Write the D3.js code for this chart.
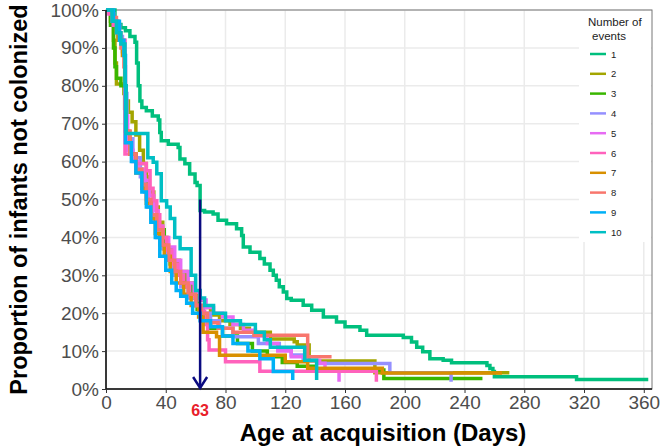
<!DOCTYPE html>
<html>
<head>
<meta charset="utf-8">
<script src="https://cdn.jsdelivr.net/npm/d3@7"></script>
<style>
  body { margin: 0; background: #fff; }
  svg { display: block; font-family: "Liberation Sans", Arial, sans-serif; }
</style>
</head>
<body>
<div id="chart"></div>
<script>
// survival steps per number of events: [day, % not colonized]
var ev1 = [[0,100],[6,96.2],[10,95.3],[13,94.5],[16,93],[19.4,91.5],[20.5,86],[21.6,80],[22.7,76],[24,74.3],[27,73.4],[31,72],[35,71],[36,67.7],[37,65.5],[41.7,64.6],[48.3,63.7],[49.5,60.7],[52.8,59.4],[56,56.7],[59.6,54.5],[61,53.7],[63,47.1],[66,46.7],[71.7,46.2],[75,44.5],[80.7,43.6],[87.4,42.3],[90.8,40.5],[91.9,37.5],[96.4,36.1],[103,34.4],[106,33],[109.8,31.3],[112,30],[114,28.7],[116,27],[118.7,25.6],[121,23.9],[124,23.4],[132,22.1],[137.7,20.8],[145.5,19],[154.3,17.7],[160,16.4],[170,15.5],[174.5,14.2],[199,13.6],[204.5,12.4],[208,11],[212,9.8],[216.8,8],[225.7,7.6],[231.3,6.9],[255,6.2],[257,5.4],[259,4.6],[260,3.2],[315,2.5],[363,2.5]];
var ev2 = [[0,100],[3,97],[5,92],[6,86],[7,80.5],[12,78],[13,76],[15,73],[17.5,70.5],[20,67],[22.5,63],[25,59.5],[27,56],[29,52],[32,48],[35,44],[38,40],[41,37],[45,34],[49,31],[54,28],[58,25.5],[62,23.5],[66,21.5],[70,19.5],[76,18],[83,17],[90,16],[96,15],[110,13.2],[126,12.5],[128,11.6],[136,7.4],[180,4.3],[270,4.3]];
var ev3 = [[0,100],[3,96],[5,90],[6,85],[7,82],[10,80],[12.5,74],[13.5,66],[16,62],[20,58],[24,55],[28,50],[31,46],[35,42],[39,37],[43,33],[47,30],[52,27],[57,24],[61,21],[65,18],[70,16],[78,14],[88,12],[98,10],[108,8.5],[118,7],[128,6],[140,5],[186,2.8],[252,2.8]];
var ev4 = [[0,100],[4,97],[8,93],[11,89],[12.8,78],[14,66],[18,61],[23,56],[26,52],[28,48],[31,44],[34,40],[37,37],[41,34],[45,30],[50,27],[55,24],[60,22],[65,20],[70,18],[76,16],[85,13.8],[102,12],[116,10.3],[124,9],[132,7.5],[142,6.7],[190,4.3],[231,1.9]];
var ev5 = [[0,100],[2,99],[5,96],[9,92],[12.5,88],[13,72],[14.5,63],[18,60],[22,58],[26,55],[29,51],[32,47],[35,43],[38,40],[42,37.5],[46,34],[50,31],[55,28],[59,25.5],[63,23.5],[67,21.5],[72,20],[78,19],[85,17],[92,15.5],[100,14],[108,12],[115,10],[124,8.5],[134,7.5],[143,6.8],[146.6,5],[156,1.9]];
var ev6 = [[0,100],[2,99],[5,96],[9,92],[12.7,62],[20,59.5],[27,57.6],[29.5,53],[31.5,49.7],[34,46],[36,42.7],[38,40],[40.6,36.6],[44,33],[48,30],[52,27],[56,24.5],[60,22],[64,20.5],[66,17],[68,13],[69,10.3],[80,7.2],[103,4.7],[181,1.9]];
var ev7 = [[0,100],[4,97],[8,92],[11,88],[12.5,80],[13.5,68],[16,62],[20,57],[24,53],[27,49],[30,45],[33,41],[36,38],[39,35],[43,31],[47,28],[52,25],[57,22],[62,19],[65,15],[74,13.8],[76,8.9],[120,7.2],[135,5.5],[185,4.2],[265,4.2]];
var ev8 = [[0,100],[4,98],[7,94],[10,90],[12,85],[13,68],[16,62],[20,58],[24,54],[27,50],[30,46],[34,42],[38,38],[42,34],[46,31],[50,28],[55,25],[60,22],[64,20],[68,17.5],[75,16],[85,15],[99,14.2],[135,8.5],[151,8.5]];
var ev9 = [[0,100],[5,97],[9,92],[12,88],[13,65],[17,60],[20,57],[24,52],[27,48],[30,44],[33,40],[36,35],[40,31.3],[44,28],[47,26],[50,24.5],[54,22.6],[58,20],[63,18],[70,16.4],[78,14],[85,12],[95,10],[103,8],[112,4.6],[125,2.4]];
var ev10 = [[0,100],[4,97],[7,94],[10,91],[12.7,80],[13.5,67.4],[28,61],[31.6,59.8],[34,56.8],[37,49.7],[40.6,48],[43,45],[46,40],[49.6,37],[57,30],[60,26],[63,24],[66,22],[72,20],[80,18],[90,17],[100,15],[106,13],[110,11],[133,7.6],[141,2.4]];

var groups = ["1", "2", "3", "4", "5", "6", "7", "8", "9", "10"];
var colors = ["#00BF7D", "#A3A500", "#39B600", "#9590FF", "#E76BF3", "#FF62BC", "#D89000", "#F8766D", "#00B0F6", "#00BFC4"];
var xTicks = [0, 40, 80, 120, 160, 200, 240, 280, 320, 360];
var yTicks = [0, 10, 20, 30, 40, 50, 60, 70, 80, 90, 100];
var medianDay = 63;

var allSeries = [ev1, ev2, ev3, ev4, ev5, ev6, ev7, ev8, ev9, ev10];

var svgWidth = 666, svgHeight = 447;
var margin = { top: 10, right: 14, bottom: 58, left: 106 };
var chartWidth = svgWidth - margin.left - margin.right;
var chartHeight = svgHeight - margin.top - margin.bottom;

var svg = d3.select("#chart").append("svg")
  .attr("width", svgWidth)
  .attr("height", svgHeight);

var chartGroup = svg.append("g")
  .attr("transform", `translate(${margin.left}, ${margin.top})`);

var xScale = d3.scaleLinear().domain([0, 365.5]).range([0, chartWidth]);
var yScale = d3.scaleLinear().domain([0, 100]).range([chartHeight, 0]);

// grid
chartGroup.append("g").selectAll("line")
  .data(xTicks).enter().append("line")
  .attr("x1", d => xScale(d)).attr("x2", d => xScale(d))
  .attr("y1", 0).attr("y2", chartHeight)
  .attr("stroke", "#ebebeb").attr("stroke-width", 1.5);
chartGroup.append("g").selectAll("line")
  .data(yTicks).enter().append("line")
  .attr("x1", 0).attr("x2", chartWidth)
  .attr("y1", d => yScale(d)).attr("y2", d => yScale(d))
  .attr("stroke", "#ebebeb").attr("stroke-width", 1.5);

// panel border
chartGroup.append("rect")
  .attr("width", chartWidth).attr("height", chartHeight)
  .attr("fill", "none").attr("stroke", "#777").attr("stroke-width", 1);

// curves
var line = d3.line()
  .x(d => xScale(d[0]))
  .y(d => yScale(d[1]))
  .curve(d3.curveStepAfter);

chartGroup.append("g").selectAll("path")
  .data(allSeries).enter().append("path")
  .attr("d", line)
  .attr("fill", "none")
  .attr("stroke", (d, i) => colors[i])
  .attr("stroke-width", 3.5)
  .attr("stroke-linejoin", "miter");

// axes
var xAxis = d3.axisBottom(xScale).tickValues(xTicks).tickSize(4).tickPadding(3);
var yAxis = d3.axisLeft(yScale).tickValues(yTicks).tickSize(4).tickPadding(3)
  .tickFormat(d => d + "%");

var gx = chartGroup.append("g")
  .attr("transform", `translate(0, ${chartHeight})`)
  .call(xAxis);
var gy = chartGroup.append("g").call(yAxis);

[gx, gy].forEach(function(g) {
  g.select(".domain").attr("stroke", "#111").attr("stroke-width", 1.5);
  g.selectAll(".tick line").attr("stroke", "#333");
  g.selectAll(".tick text")
    .attr("fill", "#4d4d4d")
    .style("font-size", "19px")
    .style("font-family", "'Liberation Sans', Arial, sans-serif");
});
gy.select(".domain").attr("d", `M0,${chartHeight}V0`);
gx.select(".domain").attr("d", `M0,0H${chartWidth}`);

// legend box
var legend = chartGroup.append("g")
  .attr("transform", `translate(${chartWidth - 74}, 0)`);
legend.append("rect")
  .attr("x", 1).attr("y", 1)
  .attr("width", 72).attr("height", 231)
  .attr("fill", "#fff");
legend.append("text")
  .attr("x", 10).attr("y", 16)
  .style("font-size", "11.5px").attr("fill", "#222")
  .text("Number of");
legend.append("text")
  .attr("x", 14).attr("y", 29.5)
  .style("font-size", "11.5px").attr("fill", "#222")
  .text("events");

var keys = legend.selectAll(".key")
  .data(groups).enter().append("g")
  .attr("transform", (d, i) => `translate(0, ${44 + i * 19.8})`);
keys.append("line")
  .attr("x1", 12).attr("x2", 28)
  .attr("y1", 0).attr("y2", 0)
  .attr("stroke", (d, i) => colors[i])
  .attr("stroke-width", 2.5);
keys.append("text")
  .attr("x", 33).attr("y", 3.5)
  .style("font-size", "9.5px").attr("fill", "#222")
  .text(d => d);

// median arrow
chartGroup.append("line")
  .attr("x1", xScale(medianDay)).attr("x2", xScale(medianDay))
  .attr("y1", yScale(50)).attr("y2", yScale(0) - 1)
  .attr("stroke", "#0a0a80").attr("stroke-width", 2.5);
chartGroup.append("path")
  .attr("d", `M${xScale(medianDay) - 7},${yScale(0) - 12}L${xScale(medianDay)},${yScale(0) - 1}L${xScale(medianDay) + 7},${yScale(0) - 12}`)
  .attr("fill", "none")
  .attr("stroke", "#0a0a80").attr("stroke-width", 2.5);

chartGroup.append("text")
  .attr("x", xScale(medianDay))
  .attr("y", chartHeight + 27)
  .attr("text-anchor", "middle")
  .style("font-family", "'Liberation Sans Narrow', 'Liberation Sans', Arial, sans-serif")
  .style("font-size", "16px")
  .style("font-weight", "bold")
  .attr("fill", "#e8202a")
  .text(medianDay);

// axis titles
svg.append("text")
  .attr("transform", "rotate(-90)")
  .attr("x", -(margin.top + chartHeight / 2))
  .attr("y", 27)
  .attr("text-anchor", "middle")
  .style("font-size", "23.5px")
  .style("font-weight", "bold")
  .attr("fill", "#000")
  .text("Proportion of infants not colonized");

svg.append("text")
  .attr("x", margin.left + chartWidth / 2 + 4)
  .attr("y", 441)
  .attr("text-anchor", "middle")
  .style("font-size", "24px")
  .style("font-weight", "bold")
  .attr("fill", "#000")
  .text("Age at acquisition (Days)");
</script>
</body>
</html>
